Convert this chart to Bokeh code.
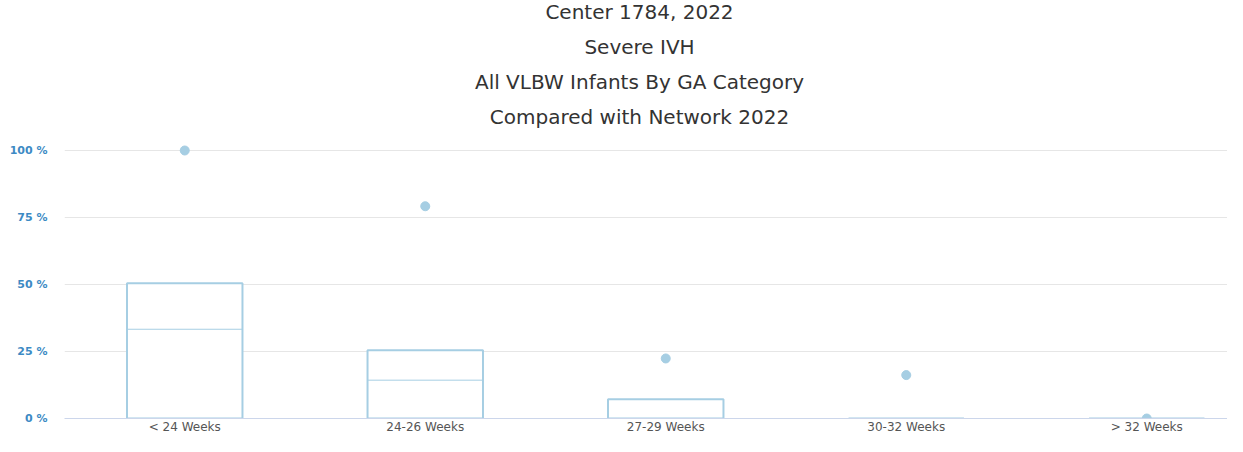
from bokeh.plotting import figure
from bokeh.models import Range1d, Label, FixedTicker
from bokeh.embed import file_html
from bokeh.resources import INLINE

categories = ["< 24 Weeks", "24-26 Weeks", "27-29 Weeks", "30-32 Weeks", "> 32 Weeks"]
box_low = [0, 0, 0, 0, 0]
box_q3 = [50.5, 25.5, 7.2, 0, 0]
box_median = [33.3, 14.3, 0, 0, 0]
center_values = [100, 79.2, 22.4, 16.2, 0]
y_ticks = [0, 25, 50, 75, 100]
y_tick_labels = ["0 %", "25 %", "50 %", "75 %", "100 %"]
title_lines = ["Center 1784, 2022", "Severe IVH", "All VLBW Infants By GA Category",
               "Compared with Network 2022"]

idx = list(range(len(categories)))
box_w = 0.48
W, H = 1227, 436
LB, BB = 64, 18
FW, FH = W - LB, H - BB
cat_px = 240.5
px_per_pct = 2.68

p = figure(width=W, height=H, min_border_left=LB, min_border_right=0,
           min_border_top=0, min_border_bottom=BB,
           x_range=Range1d(-0.5, -0.5 + FW / cat_px),
           y_range=Range1d(0, FH / px_per_pct),
           output_backend="svg", toolbar_location=None, tools="")
p.outline_line_color = None
p.background_fill_color = "white"
p.border_fill_color = "white"

box_color = "#a6cee3"
p.vbar(x=idx, width=box_w, bottom=box_low, top=box_q3, fill_color="white",
       line_color=box_color, line_width=2)
p.segment(x0=[i - box_w / 2 for i in idx], x1=[i + box_w / 2 for i in idx],
          y0=box_median, y1=box_median, line_color=box_color, line_width=1)
p.scatter(x=idx, y=center_values, size=9, fill_color=box_color, line_color=box_color)

# axes
for ax in (p.xaxis, p.yaxis):
    ax.major_tick_out = 0
    ax.major_tick_in = 0
    ax.minor_tick_out = 0
    ax.minor_tick_in = 0
    ax.major_tick_line_color = None
    ax.minor_tick_line_color = None

p.xaxis.ticker = FixedTicker(ticks=idx)
p.xaxis.major_label_overrides = {i: c for i, c in zip(idx, categories)}
p.xaxis.axis_line_color = "#ccd6eb"
p.xaxis.major_label_standoff = 1
p.xaxis.major_label_text_font = "DejaVu Sans"
p.xaxis.major_label_text_font_size = "12px"
p.xaxis.major_label_text_color = "#555555"

p.yaxis.ticker = FixedTicker(ticks=y_ticks)
p.yaxis.major_label_overrides = {t: l for t, l in zip(y_ticks, y_tick_labels)}
p.yaxis.axis_line_color = None
p.yaxis.major_label_standoff = 17
p.yaxis.major_label_text_font = "DejaVu Sans"
p.yaxis.major_label_text_font_size = "11px"
p.yaxis.major_label_text_font_style = "bold"
p.yaxis.major_label_text_color = "#3d8ac4"

p.xgrid.grid_line_color = None
p.ygrid.grid_line_color = "#e6e6e6"

# titles (screen offsets above the frame bottom)
offsets = [407, 372, 337, 302]
for line, off in zip(title_lines, offsets):
    p.add_layout(Label(x=575, y=off, x_units="screen", y_units="screen", text=line,
                       text_align="center", text_baseline="middle",
                       text_font="DejaVu Sans", text_font_size="20px",
                       text_color="#333333"))

open("out.html", "w").write(file_html(p, INLINE))
